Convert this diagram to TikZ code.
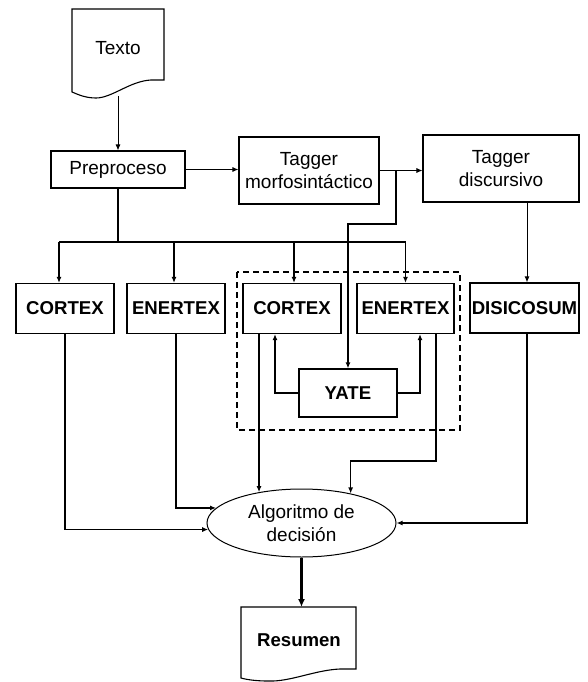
\documentclass[tikz,border=0pt]{standalone}
\usepackage{fontspec}
\setmainfont{Liberation Sans}
\usetikzlibrary{arrows.meta,shapes.geometric,calc}

\begin{document}
\begin{tikzpicture}[x=1pt,y=-1pt,
  box/.style={draw,line width=1.2pt,inner sep=0pt,minimum height=50pt,
              font=\fontsize{18.6}{22}\selectfont\bfseries},
  plain/.style={draw,line width=1.1pt,inner sep=0pt,align=center,
              font=\fontsize{19}{23}\selectfont},
  doctext/.style={inner sep=0pt},
  arr/.style={-{Latex[length=6pt,width=5pt]}},
  thinln/.style={line width=0.9pt},
  midln/.style={line width=1.3pt},
  thickln/.style={line width=1.9pt},
]
\useasboundingbox (0,0) rectangle (587,682);

% ---- documents ----
\draw[line width=1.1pt] (72,9) -- (164,9) -- (164,80) -- (151,80)
  .. controls (130,81) and (112,98) .. (96,98)
  .. controls (86,98) and (79,95) .. (72,92) -- cycle;
\node[doctext,font=\fontsize{19}{23}\selectfont] (texto) at (118,48) {Texto};
\coordinate (textoout) at (118,96);

\draw[line width=1.1pt] (241,607) -- (356,607) -- (356,669) -- (340,669)
  .. controls (315,670) and (290,682) .. (268,681)
  .. controls (258,681) and (248,680) .. (241,678) -- cycle;
\node[doctext,font=\fontsize{18.6}{22}\selectfont\bfseries] (res) at (299,640) {Resumen};
\coordinate (restop) at (302,607);

% ---- processing boxes ----
\node[plain,minimum width=134pt,minimum height=37pt] (pre) at (118,169.5) {Preproceso};
\node[plain,minimum width=140pt,minimum height=67pt] (tm) at (309,170.5) {Tagger\\morfosintáctico};
\node[plain,minimum width=156pt,minimum height=67pt] (td) at (501,168.5) {Tagger\\discursivo};

\node[box,minimum width=98pt] (c1) at (65,308.5) {CORTEX};
\node[box,minimum width=98pt] (e1) at (176,308.5) {ENERTEX};
\node[box,minimum width=98pt] (c2) at (292,308.5) {CORTEX};
\node[box,minimum width=97pt] (e2) at (405.5,308.5) {ENERTEX};
\node[box,minimum width=109pt] (disi) at (524.5,308) {DISICOSUM};
\node[box,minimum width=98pt,minimum height=48pt] (yate) at (348,393) {YATE};

\node[ellipse,draw,line width=1pt,inner sep=0pt,minimum width=189pt,minimum height=68pt,
      align=center,font=\fontsize{19}{22.5}\selectfont] (alg) at (301.5,523) {Algoritmo de\\decisión};

% group of the hybrid systems
\draw[line width=1.7pt,dash pattern=on 6pt off 4pt] (237,272) rectangle (460,430);

% ---- connectors ----
\draw[thinln,arr] (textoout) -- (pre.north);
\draw[thinln,arr] (pre.east) -- (pre.east -| tm.west);
\draw[line width=0.8pt,arr] (tm.east) -- (tm.east -| td.west);

\coordinate (br) at (396,224);
\draw[midln,arr] (tm.east -| br) -- (br) -| (yate.north);

\coordinate (dcol) at (527,0);
\draw[thinln,arr] (td.south -| dcol) -- (disi.north -| dcol);

% distribution bus
\coordinate (bus) at (118,242);
\draw[midln] (pre.south) -- (bus);
\draw[midln] ([xshift=-6pt]c1.north |- bus) -- (e2.north |- bus);
\draw[midln,arr] ([xshift=-6pt]c1.north |- bus) -- ([xshift=-6pt]c1.north);
\draw[midln,arr] ([xshift=-2pt]e1.north |- bus) -- ([xshift=-2pt]e1.north);
\draw[midln,arr] ([xshift=2pt]c2.north |- bus) -- ([xshift=2pt]c2.north);
\draw[midln,arr] (e2.north |- bus) -- (e2.north);

% YATE feeds the hybrid systems
\draw[thickln,arr] (yate.west) -| ([xshift=-17pt]c2.south);
\draw[thickln,arr] (yate.east) -| ([xshift=14.5pt]e2.south);

% outputs to the decision algorithm
\draw[midln,arr] (c1.south) |- (alg.184);
\draw[midln,arr] (e1.south) |- (alg.170);
\draw[thickln,arr] (c2.south -| alg.144) -- (alg.144);
\coordinate (k2) at (436,461);
\draw[midln,arr] (e2.south -| k2) -- (k2) -| (alg.31);
\draw[midln,arr] (disi.south -| dcol) |- (alg.east);

\draw[line width=2.8pt,-{Latex[length=8pt,width=7pt]}] (alg.south) -- (alg.south |- restop);
\end{tikzpicture}
\end{document}
